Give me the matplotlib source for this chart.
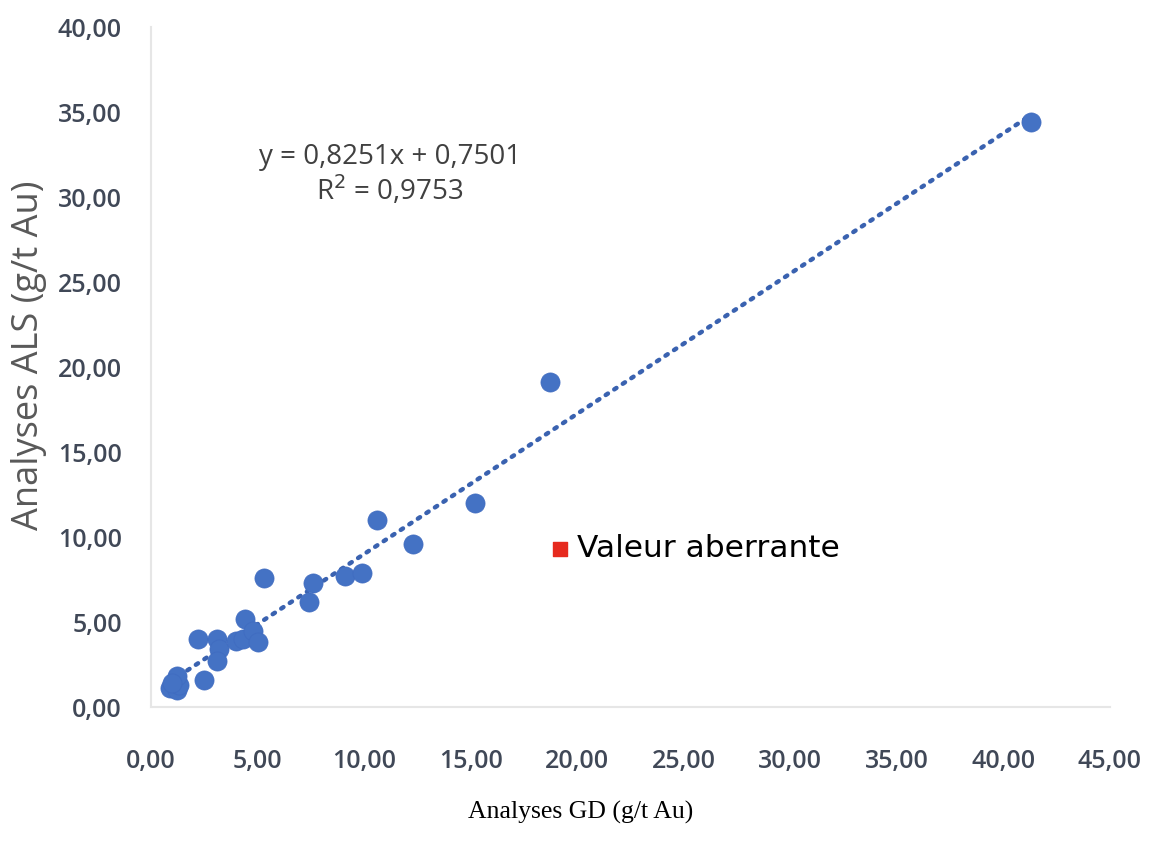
import numpy as np
import matplotlib
matplotlib.use("Agg")
import matplotlib.pyplot as plt

# Values (g/t Au)
gd = [0.9, 1.2, 1.3, 1.2, 1.0, 2.2, 2.5, 3.1, 3.2, 3.1, 4.0, 4.3, 4.4, 4.8,
      5.0, 5.3, 7.4, 7.6, 9.1, 9.9, 10.6, 12.3, 15.2, 18.7, 41.3]
als = [1.1, 1.0, 1.3, 1.8, 1.4, 4.0, 1.6, 4.0, 3.4, 2.7, 3.9, 4.0, 5.2, 4.5,
       3.8, 7.6, 6.2, 7.3, 7.7, 7.9, 11.0, 9.6, 12.0, 19.1, 34.4]

# outlier point
out_gd = [19.2]
out_als = [9.3]

# trendline shown on chart
slope = 0.8251
intercept = 0.7501
r2 = 0.9753

x_ticks = np.arange(0, 46, 5)
y_ticks = np.arange(0, 41, 5)

def fr(v, d=2):
    return f"{v:.{d}f}".replace(".", ",")

fig = plt.figure(figsize=(11.53, 8.46), dpi=100)
ax = fig.add_axes([0.131, 0.1643, 0.8317, 0.8037])

blue = "#4472C4"
tick_col = "#404857"

# trendline
xt = np.linspace(min(gd), max(gd), 200)
ax.plot(xt, slope * xt + intercept, color="#3A62B0", linestyle=(0, (0.6, 1.7)),
        linewidth=3.2, dash_capstyle="round", zorder=2)

ax.scatter(gd, als, s=190, color=blue, edgecolors="#3F6BC0", linewidths=0.5, zorder=3)
ax.scatter(out_gd, out_als, s=95, marker="s", color="#E62A1E", zorder=3)

ax.text(20.0, 9.35, "Valeur aberrante", fontsize=22.5, color="black",
        family="DejaVu Sans", va="center", ha="left")

ax.text(11.2, 31.3, f"y = {fr(slope, 4)}x + {fr(intercept, 4)}\nR$^2$ = {fr(r2, 4)}",
        fontsize=20, color="#404040", family="Open Sans", ha="center", va="center",
        linespacing=1.1)

ax.set_xlim(0, 45)
ax.set_ylim(0, 40)
ax.set_xticks(x_ticks)
ax.set_yticks(y_ticks)
ax.set_xticklabels([fr(v) for v in x_ticks])
ax.set_yticklabels([fr(v) for v in y_ticks])
ax.tick_params(axis="x", length=0, pad=30, labelsize=18, labelcolor=tick_col)
ax.tick_params(axis="y", length=0, pad=21, labelsize=18, labelcolor=tick_col)
for lab in ax.get_xticklabels() + ax.get_yticklabels():
    lab.set_family("Open Sans")
    lab.set_fontweight("semibold")

for s in ["top", "right"]:
    ax.spines[s].set_visible(False)
for s in ["left", "bottom"]:
    ax.spines[s].set_color("#E6E6E6")
    ax.spines[s].set_linewidth(1.5)

fig.text(0.025, 0.58, "Analyses ALS (g/t Au)", rotation=90, fontsize=26,
         color="#595959", family="Open Sans", ha="center", va="center")
fig.text(0.504, 0.04, "Analyses GD (g/t Au)", fontsize=18.5, color="black",
         family="Liberation Serif", ha="center", va="center")

fig.savefig("out.png", dpi=100)
